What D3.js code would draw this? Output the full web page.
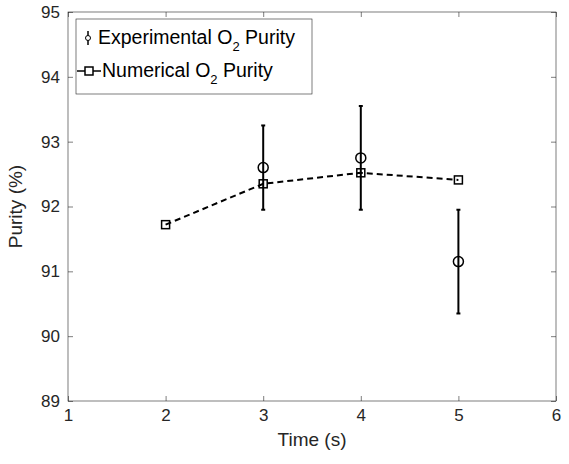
<!DOCTYPE html><html><head><script src="https://cdn.jsdelivr.net/npm/d3@7"></script>
<style>body{margin:0;background:#fff}text{font-family:"Liberation Sans",Arial,sans-serif}</style></head><body>
<svg id="c" width="569" height="464"></svg>
<script>
const expTime=[3,4,5], expVal=[92.6,92.75,91.15], expLo=[91.95,91.95,90.35], expHi=[93.25,93.55,91.95];
const numTime=[2,3,4,5], numVal=[91.72,92.35,92.52,92.41];
const xTicks=[1,2,3,4,5,6], yTicks=[89,90,91,92,93,94,95];
const svg=d3.select("#c");
const L=68,R=556,T=12,B=401;
const x=d3.scaleLinear().domain([1,6]).range([L,R]);
const y=d3.scaleLinear().domain([89,95]).range([B,T]);
svg.append("rect").attr("x",L).attr("y",T).attr("width",R-L).attr("height",B-T).attr("fill","none").attr("stroke","#262626").attr("stroke-width",0.6);
svg.append("g").attr("transform",`translate(0,${B})`).call(d3.axisBottom(x).tickValues(xTicks).tickSize(-5).tickPadding(8).tickFormat(d3.format("d")));
svg.append("g").attr("transform",`translate(${L},0)`).call(d3.axisLeft(y).tickValues(yTicks).tickSize(-5).tickPadding(8).tickFormat(d3.format("d")));
svg.append("g").attr("transform",`translate(0,${T})`).call(d3.axisTop(x).tickValues(xTicks).tickSize(-5).tickFormat(""));
svg.append("g").attr("transform",`translate(${R},0)`).call(d3.axisRight(y).tickValues(yTicks).tickSize(-5).tickFormat(""));
svg.selectAll(".domain").remove();
svg.selectAll(".tick line").attr("stroke","#262626").attr("stroke-width",0.6);
svg.selectAll(".tick text").attr("font-size",17).attr("fill","#262626").style("font-family","'Liberation Sans',Arial,sans-serif");
svg.append("text").attr("x",(L+R)/2).attr("y",446).attr("text-anchor","middle").attr("font-size",19).attr("fill","#262626").text("Time (s)");
svg.append("text").attr("transform",`translate(22,${(T+B)/2}) rotate(-90)`).attr("text-anchor","middle").attr("font-size",19).attr("fill","#262626").text("Purity (%)");
const line=d3.line().x((d,i)=>x(numTime[i])).y(d=>y(d));
svg.append("path").attr("d",line(numVal)).attr("fill","none").attr("stroke","#000").attr("stroke-width",2).attr("stroke-dasharray","6,4");
numVal.forEach((v,i)=>svg.append("rect").attr("x",x(numTime[i])-4).attr("y",y(v)-4).attr("width",8).attr("height",8).attr("fill","none").attr("stroke","#000").attr("stroke-width",1.5));
expVal.forEach((v,i)=>{const cx=x(expTime[i]);
svg.append("line").attr("x1",cx).attr("x2",cx).attr("y1",y(expLo[i])).attr("y2",y(expHi[i])).attr("stroke","#000").attr("stroke-width",2);
[expLo[i],expHi[i]].forEach(e=>svg.append("line").attr("x1",cx-2).attr("x2",cx+2).attr("y1",y(e)).attr("y2",y(e)).attr("stroke","#000").attr("stroke-width",2));
svg.append("circle").attr("cx",cx).attr("cy",y(v)).attr("r",5).attr("fill","none").attr("stroke","#000").attr("stroke-width",1.5);});
const lg=svg.append("g");
lg.append("rect").attr("x",76).attr("y",19).attr("width",236).attr("height",75).attr("fill","#fff").attr("stroke","#262626").attr("stroke-width",0.6);
lg.append("line").attr("x1",88).attr("x2",88).attr("y1",31).attr("y2",45).attr("stroke","#000").attr("stroke-width",1.5);
lg.append("circle").attr("cx",88).attr("cy",38).attr("r",2.5).attr("fill","#fff").attr("stroke","#000").attr("stroke-width",1);
const t1=lg.append("text").attr("x",98).attr("y",44).attr("font-size",19.5).attr("fill","#000");
t1.append("tspan").text("Experimental O");t1.append("tspan").attr("font-size",13).attr("dy",7).text("2");t1.append("tspan").attr("dy",-7).text(" Purity");
lg.append("line").attr("x1",77).attr("x2",101).attr("y1",71).attr("y2",71).attr("stroke","#000").attr("stroke-width",1.5);
lg.append("rect").attr("x",85).attr("y",67).attr("width",8).attr("height",8).attr("fill","#fff").attr("stroke","#000").attr("stroke-width",1.5);
const t2=lg.append("text").attr("x",102).attr("y",77).attr("font-size",19.5).attr("fill","#000");
t2.append("tspan").text("Numerical O");t2.append("tspan").attr("font-size",13).attr("dy",7).text("2");t2.append("tspan").attr("dy",-7).text(" Purity");
</script></body></html>
